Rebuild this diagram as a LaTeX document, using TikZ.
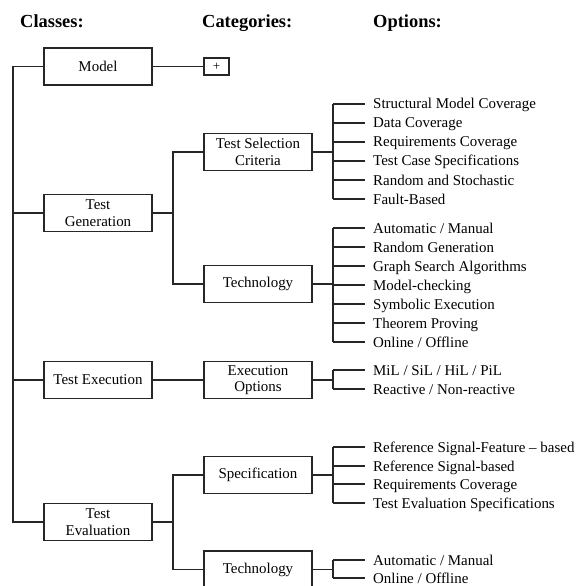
\documentclass[tikz,border=0pt]{standalone}
\usepackage{fontspec}
\setmainfont{Liberation Serif}
\begin{document}
\begin{tikzpicture}[x=1bp,y=-1bp,
  wire/.style={line width=1.5bp, draw=black!85},
  classbox/.style={draw=black!85, line width=1.5bp, minimum width=108bp, minimum height=37bp,
    inner sep=0pt, align=center, font=\fontsize{15}{16.5}\selectfont},
  catbox/.style={classbox},
  plusbox/.style={draw=black!85, line width=1.5bp, minimum width=25bp, minimum height=17bp,
    inner sep=0pt, font=\fontsize{13}{14}\selectfont},
  opt/.style={anchor=west, inner sep=0pt, text height=10bp, text depth=0pt,
    font=\fontsize{15}{16.5}\selectfont},
  header/.style={anchor=base west, inner sep=0pt, font=\fontsize{18.5}{20}\selectfont\bfseries}]

\useasboundingbox (0,0) rectangle (587,586);
\clip (0,0) rectangle (587,586);

% column headings
\node[header] (hcl) at (20,28) {Classes:};
\node[header] (hca) at (202,28) {Categories:};
\node[header] (hop) at (373,28) {Options:};

% classes
\node[classbox] (model) at (98,66.5) {Model};
\node[classbox] (tgen)  at (98,213) {Test\\Generation};
\node[classbox] (texec) at (98,380) {Test Execution};
\node[classbox] (teval) at (98,522) {Test\\Evaluation};

% categories
\node[plusbox] (plus) at (216.5,66.5) {+};
\node[catbox] (tsc)   at (258,152) {Test Selection\\Criteria};
\node[catbox] (tech1) at (258,284) {Technology};
\node[catbox] (exo)   at (258,380) {Execution\\Options};
\node[catbox] (spec)  at (258,475) {Specification};
\node[catbox] (tech2) at (258,569.5) {Technology};

% spine joining the classes
\coordinate (spine) at (13,0);
\draw[wire] (model.west) -- (model.west -| spine) |- (teval.west);
\draw[wire] (tgen.west) -- (tgen.west -| spine);
\draw[wire] (texec.west) -- (texec.west -| spine);

% classes to categories
\draw[wire] (model) -- (plus);
\draw[wire] (texec) -- (exo);
\coordinate (jgen) at (173,213);
\draw[wire] (tgen.east) -- (jgen);
\draw[wire] (tsc.west) -| (jgen) |- (tech1.west);
\coordinate (jeval) at (173,522);
\draw[wire] (teval.east) -- (jeval);
\draw[wire] (spec.west) -| (jeval) |- (tech2.west);

% options of one category: name, category node, list of y/{text}
\newcommand{\optgroup}[3]{%
  \coordinate (#1j) at (333,0);
  \draw[wire] (#2.east) -- (#2.east -| #1j);
  \foreach \yy/\txt [count=\k] in {#3} {
    \node[opt] (#1\k) at (373,\yy) {\txt};
  }
}

\optgroup{a}{tsc}{104/{Structural Model Coverage}, 123/{Data Coverage},
  142/{Requirements Coverage}, 161/{Test Case Specifications},
  180/{Random and Stochastic}, 199/{Fault-Based}}
\draw[wire] (a1.west -| aj) -- (a6.west -| aj);
\foreach \k in {1,...,6} \draw[wire] (a\k.west -| aj) -- ([xshift=-8bp]a\k.west);

\optgroup{b}{tech1}{228/{Automatic / Manual}, 247/{Random Generation},
  266/{Graph Search Algorithms}, 285/{Model-checking},
  304/{Symbolic Execution}, 323/{Theorem Proving}, 342/{Online / Offline}}
\draw[wire] (b1.west -| bj) -- (b7.west -| bj);
\foreach \k in {1,...,7} \draw[wire] (b\k.west -| bj) -- ([xshift=-8bp]b\k.west);

\optgroup{c}{exo}{370/{MiL / SiL / HiL / PiL}, 389/{Reactive / Non-reactive}}
\draw[wire] (c1.west -| cj) -- (c2.west -| cj);
\foreach \k in {1,2} \draw[wire] (c\k.west -| cj) -- ([xshift=-8bp]c\k.west);

\optgroup{d}{spec}{447/{Reference Signal-Feature -- based}, 466/{Reference Signal-based},
  484/{Requirements Coverage}, 503/{Test Evaluation Specifications}}
\draw[wire] (d1.west -| dj) -- (d4.west -| dj);
\foreach \k in {1,...,4} \draw[wire] (d\k.west -| dj) -- ([xshift=-8bp]d\k.west);

\optgroup{e}{tech2}{560/{Automatic / Manual}, 578/{Online / Offline}}
\draw[wire] (e1.west -| ej) -- (e2.west -| ej);
\foreach \k in {1,2} \draw[wire] (e\k.west -| ej) -- ([xshift=-8bp]e\k.west);

\end{tikzpicture}
\end{document}
